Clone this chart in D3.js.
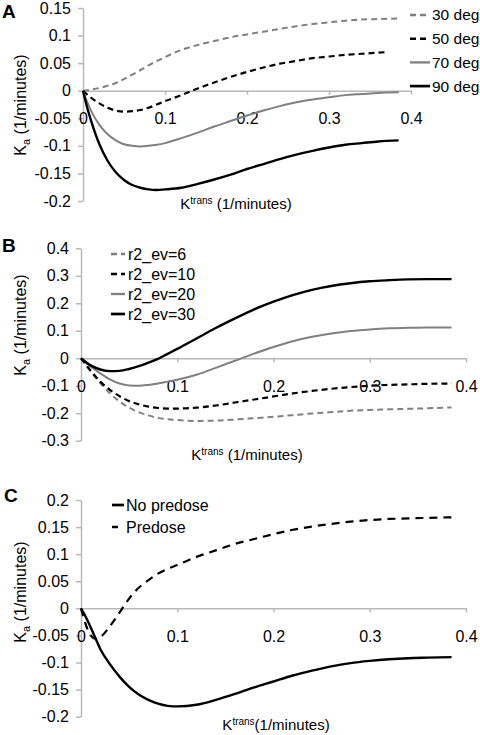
<!DOCTYPE html>
<html><head><meta charset="utf-8">
<script src="https://cdn.jsdelivr.net/npm/d3@7"></script>
<style>
body{margin:0;background:#fff;}
svg{display:block;font-family:"Liberation Sans",Arial,sans-serif;}
</style></head>
<body><svg id="c" width="480" height="735"></svg>
<script>
// ---------- DATA ----------
// Panel A: flip angle
const xA = [0,0.005,0.01,0.02,0.03,0.04,0.05,0.06,0.07,0.08,0.09,0.1,0.12,0.14,0.16,0.18,0.2,0.22,0.24,0.26,0.28,0.3,0.32,0.34,0.36,0.385];
const a90 = [0,-0.03,-0.055,-0.097,-0.127,-0.148,-0.162,-0.171,-0.176,-0.179,-0.18,-0.179,-0.176,-0.169,-0.161,-0.152,-0.142,-0.133,-0.124,-0.116,-0.109,-0.103,-0.098,-0.095,-0.092,-0.09];
const a70 = [0,-0.02,-0.037,-0.062,-0.079,-0.09,-0.097,-0.1,-0.101,-0.1,-0.098,-0.095,-0.086,-0.076,-0.065,-0.055,-0.045,-0.036,-0.028,-0.021,-0.016,-0.012,-0.008,-0.006,-0.004,-0.003];
const xA50 = [0,0.01,0.02,0.03,0.04,0.05,0.06,0.07,0.08,0.09,0.1,0.12,0.14,0.16,0.18,0.2,0.22,0.24,0.26,0.28,0.3,0.32,0.34,0.37];
const a50 = [0,-0.013,-0.023,-0.031,-0.036,-0.038,-0.037,-0.035,-0.031,-0.025,-0.019,-0.008,0.004,0.015,0.025,0.034,0.042,0.049,0.054,0.059,0.062,0.065,0.067,0.07];
const xA30 = [0,0.02,0.04,0.06,0.08,0.1,0.12,0.14,0.16,0.18,0.2,0.22,0.24,0.26,0.28,0.3,0.32,0.34,0.36,0.385];
const a30 = [0,0.005,0.014,0.029,0.046,0.061,0.074,0.083,0.09,0.097,0.102,0.107,0.112,0.117,0.121,0.124,0.127,0.129,0.13,0.131];
const labelsA = ["30 deg","50 deg","70 deg","90 deg"];
const yTicksA = [0.15,0.1,0.05,0,-0.05,-0.1,-0.15,-0.2];

// Panel B: r2_ev
const xB = [0,0.01,0.02,0.03,0.04,0.05,0.06,0.07,0.08,0.09,0.1,0.12,0.14,0.16,0.18,0.2,0.22,0.24,0.26,0.28,0.3,0.32,0.34,0.36,0.385];
const b6  = [0,-0.047,-0.09,-0.127,-0.157,-0.18,-0.196,-0.208,-0.217,-0.222,-0.225,-0.228,-0.227,-0.223,-0.218,-0.213,-0.207,-0.201,-0.196,-0.191,-0.188,-0.186,-0.184,-0.182,-0.179];
const b10 = [0,-0.045,-0.085,-0.115,-0.138,-0.156,-0.168,-0.176,-0.181,-0.183,-0.183,-0.18,-0.172,-0.161,-0.15,-0.139,-0.128,-0.119,-0.111,-0.105,-0.1,-0.097,-0.095,-0.093,-0.092];
const b20 = [0,-0.03,-0.055,-0.077,-0.092,-0.099,-0.1,-0.097,-0.092,-0.085,-0.078,-0.06,-0.035,-0.009,0.017,0.041,0.062,0.078,0.09,0.099,0.105,0.109,0.111,0.112,0.112];
const b30 = [0,-0.026,-0.041,-0.047,-0.046,-0.039,-0.029,-0.016,-0.002,0.016,0.034,0.072,0.11,0.145,0.178,0.206,0.23,0.249,0.263,0.273,0.28,0.284,0.287,0.288,0.288];
const labelsB = ["r2_ev=6","r2_ev=10","r2_ev=20","r2_ev=30"];
const yTicksB = [0.4,0.3,0.2,0.1,0,-0.1,-0.2,-0.3];

// Panel C: predose
const xC = [0,0.005,0.01,0.015,0.02,0.03,0.04,0.05,0.06,0.07,0.08,0.09,0.1,0.12,0.14,0.16,0.18,0.2,0.22,0.24,0.26,0.28,0.3,0.32,0.34,0.36,0.385];
const cNo  = [0,-0.016,-0.035,-0.055,-0.075,-0.103,-0.126,-0.145,-0.159,-0.169,-0.176,-0.18,-0.181,-0.178,-0.169,-0.158,-0.146,-0.135,-0.124,-0.115,-0.107,-0.101,-0.097,-0.094,-0.092,-0.091,-0.09];
const cPre = [0,-0.03,-0.05,-0.056,-0.053,-0.033,-0.008,0.018,0.038,0.052,0.064,0.073,0.08,0.095,0.107,0.119,0.128,0.137,0.145,0.151,0.156,0.16,0.163,0.165,0.166,0.167,0.168];
const labelsC = ["No predose","Predose"];
const yTicksC = [0.2,0.15,0.1,0.05,0,-0.05,-0.1,-0.15,-0.2];

const xTicks = [0,0.1,0.2,0.3,0.4];

// ---------- DRAW ----------
const svg = d3.select("#c");
const AX = "#b8b8b8", GRAY = "#808080";

const styles = {
  grayDash: {stroke:GRAY, width:2, dash:"6,4"},
  blackDash:{stroke:"#000", width:2.2, dash:"6,4"},
  graySolid:{stroke:GRAY, width:2, dash:null},
  blackSolid:{stroke:"#000", width:2.4, dash:null},
  bigDash:{stroke:"#000", width:2.2, dash:"8,6"}
};

function panel(cfg){
  const g = svg.append("g");
  const x = d3.scaleLinear().domain([0,0.4]).range(cfg.xr);
  const y = d3.scaleLinear().domain(cfg.yd).range(cfg.yr);

  const ya = g.append("g").attr("transform",`translate(${cfg.xr[0]},0)`)
    .call(d3.axisLeft(y).tickValues(cfg.yTicks).tickFormat(d=>String(d)).tickSize(5).tickPadding(7).tickSizeOuter(0));
  const xa = g.append("g").attr("transform",`translate(0,${y(0)})`)
    .call(d3.axisBottom(x).tickValues(xTicks).tickFormat(d=>String(d)).tickSize(4).tickPadding(18).tickSizeOuter(0));
  [ya,xa].forEach(a=>{
    a.select(".domain").attr("stroke",AX).attr("stroke-width",1.5);
    a.selectAll(".tick line").attr("stroke",AX).attr("stroke-width",1.5);
    a.selectAll("text").attr("fill","#000").style("font-size","16px").style("font-family","Liberation Sans, Arial, sans-serif");
  });

  const line = d3.line().x(d=>x(d[0])).y(d=>y(d[1])).curve(d3.curveMonotoneX);
  cfg.series.forEach(s=>{
    const st = styles[s.style];
    const pts = s.xs.map((v,i)=>[v,s.ys[i]]);
    g.append("path").attr("d",line(pts)).attr("fill","none")
      .attr("stroke",st.stroke).attr("stroke-width",st.width)
      .attr("stroke-dasharray",st.dash);
  });

  cfg.series.forEach((s,i)=>{
    const st = styles[s.style];
    const ly = cfg.leg.y + i*cfg.leg.dy;
    g.append("line").attr("x1",cfg.leg.x1).attr("x2",s.legX2 || cfg.leg.x2).attr("y1",ly).attr("y2",ly)
      .attr("stroke",st.stroke).attr("stroke-width",st.width+0.3).attr("stroke-dasharray",s.legDash!==undefined? s.legDash : st.dash);
    g.append("text").attr("x",cfg.leg.tx).attr("y",ly).attr("dy","0.35em")
      .style("font-size",cfg.leg.fs+"px").text(s.label);
  });

  g.append("text").attr("x",cfg.letter[1]).attr("y",cfg.letter[2]).style("font-size","19px").style("font-weight","bold").text(cfg.letter[0]);

  const yt = g.append("text").attr("transform",`translate(${cfg.ytitle[0]},${cfg.ytitle[1]}) rotate(-90)`)
    .attr("text-anchor","middle").attr("dy","0.35em").style("font-size","16px");
  yt.append("tspan").text("K");
  yt.append("tspan").attr("dy","4").style("font-size","11px").text("a");
  yt.append("tspan").attr("dy","-4").text(" (1/minutes)");

  const xt = g.append("text").attr("x",cfg.xtitle[0]).attr("y",cfg.xtitle[1]).attr("text-anchor","middle").style("font-size","15px");
  xt.append("tspan").text("K");
  xt.append("tspan").attr("dy","-5").style("font-size","10px").text("trans");
  xt.append("tspan").attr("dy","5").text(cfg.xtitleSep + "(1/minutes)");
}

panel({
  xr:[83,411], yd:[-0.2,0.15], yr:[201,8], yTicks:yTicksA,
  series:[
    {xs:xA30, ys:a30, style:"grayDash", label:labelsA[0]},
    {xs:xA50, ys:a50, style:"blackDash", label:labelsA[1]},
    {xs:xA, ys:a70, style:"graySolid", label:labelsA[2]},
    {xs:xA, ys:a90, style:"blackSolid", label:labelsA[3]}
  ],
  leg:{x1:410,x2:430,tx:432,y:15,dy:23.7,fs:15.5},
  letter:["A",2,18], ytitle:[20,105], xtitle:[236,209], xtitleSep:" "
});

panel({
  xr:[81,466], yd:[-0.3,0.4], yr:[440.7,248.3], yTicks:yTicksB,
  series:[
    {xs:xB, ys:b6, style:"grayDash", label:labelsB[0]},
    {xs:xB, ys:b10, style:"blackDash", label:labelsB[1]},
    {xs:xB, ys:b20, style:"graySolid", label:labelsB[2]},
    {xs:xB, ys:b30, style:"blackSolid", label:labelsB[3]}
  ],
  leg:{x1:111,x2:125,tx:128,y:254,dy:20,fs:16},
  letter:["B",2,252], ytitle:[20,325], xtitle:[247,460], xtitleSep:" "
});

panel({
  xr:[81,466], yd:[-0.2,0.2], yr:[716.7,500], yTicks:yTicksC,
  series:[
    {xs:xC, ys:cNo, style:"blackSolid", label:labelsC[0]},
    {xs:xC, ys:cPre, style:"bigDash", label:labelsC[1], legX2:118, legDash:null}
  ],
  leg:{x1:112,x2:124,tx:126,y:505,dy:22,fs:16},
  letter:["C",4,502], ytitle:[20,592], xtitle:[276,730], xtitleSep:""
});
</script></body></html>
